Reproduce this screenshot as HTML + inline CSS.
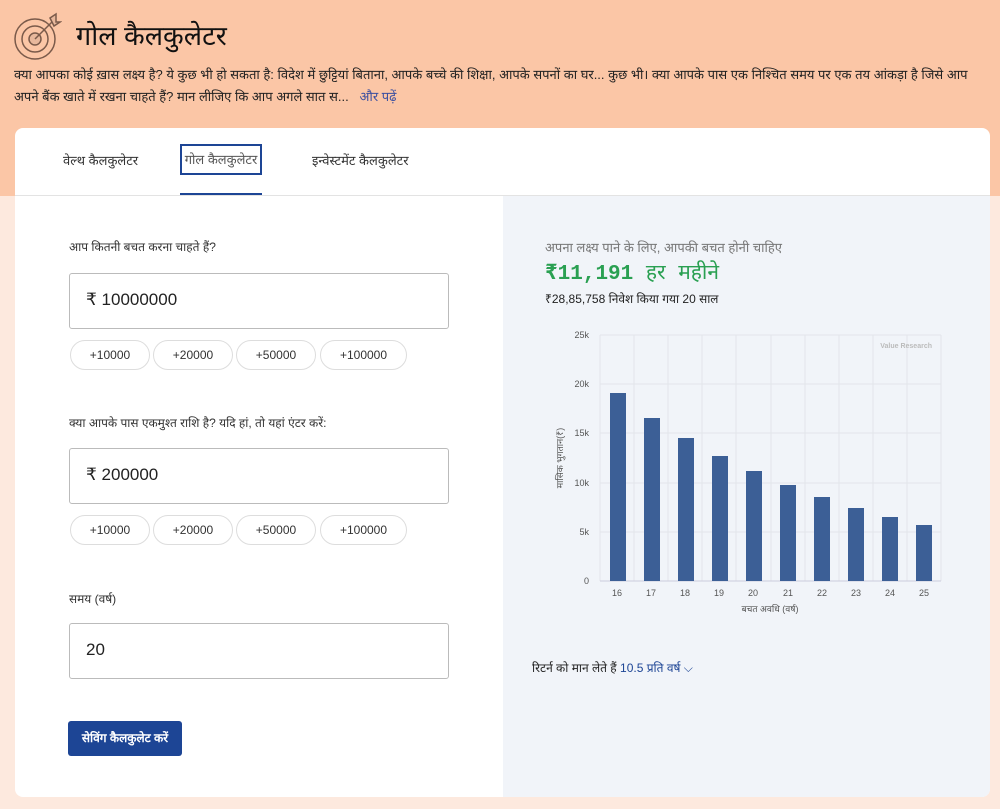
<!DOCTYPE html>
<html><head><meta charset="utf-8"><style>
*{margin:0;padding:0;box-sizing:border-box}
body{width:1000px;height:809px;overflow:hidden;position:relative;background:#fde9de;font-family:"Liberation Sans","Noto Sans CJK SC",sans-serif;color:#222}
.top{position:absolute;left:0;top:0;width:1000px;height:196px;background:#fbc6a6}
.abs{position:absolute;white-space:nowrap}
.card{position:absolute;left:15px;top:128px;width:975px;height:669px;background:#fff;border-radius:8px;overflow:hidden}
.right{position:absolute;left:488px;top:68px;width:487px;height:601px;background:#f1f4f9}
.inp{position:absolute;left:54px;width:380px;height:56px;border:1px solid #bbb;border-radius:3px;font-size:17px;padding:16px 16px;color:#222}
.chip{position:absolute;height:30px;border:1px solid #ddd;border-radius:15px;font-size:12px;text-align:center;line-height:28px;color:#333;background:#fff}
</style></head><body>
<div class="top"></div>
<svg class="abs" style="left:12px;top:12px" width="50" height="50" viewBox="0 0 50 50" fill="none" stroke="#7a5a4a" stroke-width="1.5"><circle cx="23" cy="27" r="20"/><circle cx="23" cy="27" r="13"/><circle cx="23" cy="27" r="6" fill="#e8b89c"/><line x1="23" y1="27" x2="42" y2="8"/><path d="M38 6 L44 2 L44 10 L48 10 L42 14Z" fill="#e8b89c"/></svg>
<div class="abs" style="left:76px;top:16px;font-size:27px;color:#111">गोल कैलकुलेटर</div>
<div class="abs" style="left:14px;top:64px;font-size:13px;line-height:22px;color:#222;white-space:normal;width:975px">क्या आपका कोई ख़ास लक्ष्य है? ये कुछ भी हो सकता है: विदेश में छुट्टियां बिताना, आपके बच्चे की शिक्षा, आपके सपनों का घर... कुछ भी। क्या आपके पास एक निश्चित समय पर एक तय आंकड़ा है जिसे आप अपने बैंक खाते में रखना चाहते हैं? मान लीजिए कि आप अगले सात स... &nbsp; <span style="color:#3b4fa0">और पढ़ें</span></div>
<div class="card">
 <div class="abs" style="left:48px;top:23px;font-size:13px;color:#333">वेल्थ कैलकुलेटर</div>
 <div class="abs" style="left:165px;top:16px;width:82px;height:31px;border:2px solid #1d4595;font-size:13px;text-align:center;line-height:27px;color:#555">गोल कैलकुलेटर</div>
 <div class="abs" style="left:165px;top:65px;width:82px;height:2px;background:#1d4595"></div>
 <div class="abs" style="left:297px;top:23px;font-size:13px;color:#333">इन्वेस्टमेंट कैलकुलेटर</div>
 <div class="abs" style="left:0;top:67px;width:975px;height:1px;background:#e3e3e3"></div>
 <div class="right"></div>
 <div class="abs" style="left:54px;top:110px;font-size:12px;color:#333">आप कितनी बचत करना चाहते हैं?</div>
 <div class="inp" style="top:145px">₹ 10000000</div>
 <div class="chip" style="left:55px;top:212px;width:80px">+10000</div><div class="chip" style="left:138px;top:212px;width:80px">+20000</div><div class="chip" style="left:221px;top:212px;width:80px">+50000</div><div class="chip" style="left:305px;top:212px;width:87px">+100000</div>
 <div class="abs" style="left:54px;top:286px;font-size:12px;color:#333">क्या आपके पास एकमुश्त राशि है? यदि हां, तो यहां एंटर करें:</div>
 <div class="inp" style="top:320px">₹ 200000</div>
 <div class="chip" style="left:55px;top:387px;width:80px">+10000</div><div class="chip" style="left:138px;top:387px;width:80px">+20000</div><div class="chip" style="left:221px;top:387px;width:80px">+50000</div><div class="chip" style="left:305px;top:387px;width:87px">+100000</div>
 <div class="abs" style="left:54px;top:462px;font-size:12px;color:#333">समय (वर्ष)</div>
 <div class="inp" style="top:495px">20</div>
 <div class="abs" style="left:53px;top:593px;width:114px;height:35px;background:#1d4595;border-radius:3px;color:#fff;font-size:12px;font-weight:bold;text-align:center;line-height:35px">सेविंग कैलकुलेट करें</div>
 <div class="abs" style="left:530px;top:110px;font-size:13px;color:#777">अपना लक्ष्य पाने के लिए, आपकी बचत होनी चाहिए</div>
 <div class="abs" style="left:530px;top:130px;font-size:21px;font-weight:bold;color:#2aa052;font-family:'Liberation Mono','Noto Sans CJK SC',monospace">₹11,191 <span style="font-weight:normal">हर महीने</span></div>
 <div class="abs" style="left:530px;top:162px;font-size:12px;color:#222">₹28,85,758 निवेश किया गया 20 साल</div>
 <div class="abs" style="left:517px;top:531px;font-size:12px;color:#222">रिटर्न को मान लेते हैं <span style="color:#1d4595">10.5 प्रति वर्ष ⌵</span></div>
</div>
<svg class="abs" style="left:0;top:0" width="1000" height="809" font-family="Liberation Sans, Noto Sans CJK SC, sans-serif" font-size="9" fill="#555">
<g stroke="#e2e5ea" stroke-width="1">
<line x1="600" y1="335" x2="941" y2="335"/><line x1="600" y1="384" x2="941" y2="384"/><line x1="600" y1="433" x2="941" y2="433"/><line x1="600" y1="483" x2="941" y2="483"/><line x1="600" y1="532" x2="941" y2="532"/>
<line x1="600" y1="335" x2="600" y2="581"/><line x1="634" y1="335" x2="634" y2="581"/><line x1="668" y1="335" x2="668" y2="581"/><line x1="702" y1="335" x2="702" y2="581"/><line x1="736" y1="335" x2="736" y2="581"/><line x1="771" y1="335" x2="771" y2="581"/><line x1="805" y1="335" x2="805" y2="581"/><line x1="839" y1="335" x2="839" y2="581"/><line x1="873" y1="335" x2="873" y2="581"/><line x1="907" y1="335" x2="907" y2="581"/><line x1="941" y1="335" x2="941" y2="581"/>
</g>
<line x1="600" y1="581" x2="941" y2="581" stroke="#ccd" />
<g fill="#3c5f96">
<rect x="610" y="393" width="16" height="188"/><rect x="644" y="418" width="16" height="163"/><rect x="678" y="438" width="16" height="143"/><rect x="712" y="456" width="16" height="125"/><rect x="746" y="471" width="16" height="110"/><rect x="780" y="485" width="16" height="96"/><rect x="814" y="497" width="16" height="84"/><rect x="848" y="508" width="16" height="73"/><rect x="882" y="517" width="16" height="64"/><rect x="916" y="525" width="16" height="56"/>
</g>
<g text-anchor="end"><text x="589" y="338">25k</text><text x="589" y="387">20k</text><text x="589" y="436">15k</text><text x="589" y="486">10k</text><text x="589" y="535">5k</text><text x="589" y="584">0</text></g>
<g text-anchor="middle"><text x="617" y="596">16</text><text x="651" y="596">17</text><text x="685" y="596">18</text><text x="719" y="596">19</text><text x="753" y="596">20</text><text x="788" y="596">21</text><text x="822" y="596">22</text><text x="856" y="596">23</text><text x="890" y="596">24</text><text x="924" y="596">25</text>
<text x="770" y="612">बचत अवधि (वर्ष)</text>
<text transform="translate(563 458) rotate(-90)">मासिक भुगतान(₹)</text></g>
<text x="932" y="348" text-anchor="end" font-size="7" font-weight="bold" fill="#bbb">Value Research</text>
</svg>
</body></html>
